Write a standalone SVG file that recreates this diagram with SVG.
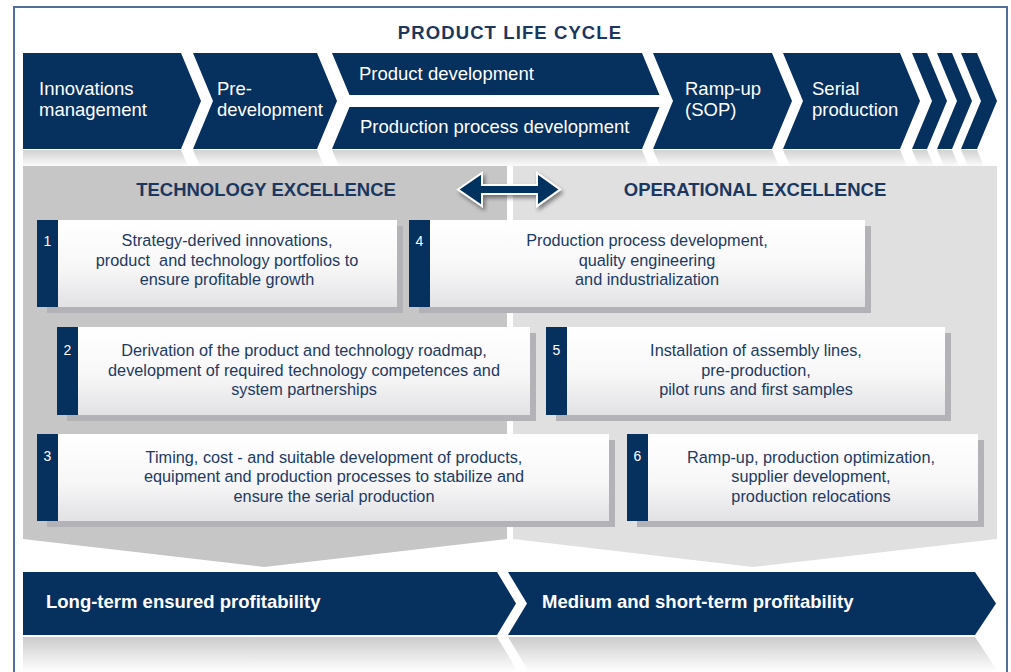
<svg xmlns="http://www.w3.org/2000/svg" width="1011" height="672" viewBox="0 0 1011 672">
<defs>
<linearGradient id="boxg" x1="0" y1="0" x2="0" y2="1">
<stop offset="0" stop-color="#ffffff"/>
<stop offset="0.55" stop-color="#f7f7f8"/>
<stop offset="1" stop-color="#e2e2e5"/>
</linearGradient>
<linearGradient id="refTop" gradientUnits="userSpaceOnUse" x1="0" y1="150" x2="0" y2="166">
<stop offset="0" stop-color="#d2d2d2"/>
<stop offset="1" stop-color="#fbfbfb"/>
</linearGradient>
<linearGradient id="refBot" gradientUnits="userSpaceOnUse" x1="0" y1="637" x2="0" y2="672">
<stop offset="0" stop-color="#cccccc"/>
<stop offset="1" stop-color="#ffffff"/>
</linearGradient>
<filter id="sh" x="-20%" y="-40%" width="140%" height="180%">
<feGaussianBlur in="SourceAlpha" stdDeviation="2"/>
<feOffset dx="2" dy="3" result="b"/>
<feComponentTransfer><feFuncA type="linear" slope="0.45"/></feComponentTransfer>
<feMerge><feMergeNode/><feMergeNode in="SourceGraphic"/></feMerge>
</filter>
</defs>
<style>
.navy{fill:#06305e}
.wt{fill:#ffffff;font-family:"Liberation Sans",Arial,sans-serif;font-size:18.5px}
.wb{fill:#ffffff;font-family:"Liberation Sans",Arial,sans-serif;font-size:18.5px;font-weight:bold}
.hd{fill:#1b3760;font-family:"Liberation Sans",Arial,sans-serif;font-size:18.5px;font-weight:bold;text-anchor:middle}
.bt{fill:#1d3a62;font-family:"Liberation Sans",Arial,sans-serif;font-size:16.3px;text-anchor:middle;white-space:pre}
.num{fill:#ffffff;font-family:"Liberation Sans",Arial,sans-serif;font-size:14px;text-anchor:middle}
.box{fill:url(#boxg)}
.shd{fill:#b3b3b7}
.tab{fill:#06305e}
</style>
<rect x="0" y="0" width="1011" height="672" fill="#ffffff"/>
<rect x="14" y="7" width="993" height="690" fill="#ffffff" stroke="#50709a" stroke-width="2"/>

<text x="510" y="38.5" class="hd" letter-spacing="1.1">PRODUCT LIFE CYCLE</text>

<g id="reflection-top" fill="url(#refTop)">
<path d="M23,150 H181 L188,166 H23 Z"/>
<path d="M193,150 H317 L324,166 H200 Z"/>
<path d="M332,150 H642 L649,166 H339 Z"/>
<path d="M653,150 H772 L779,166 H660 Z"/>
<path d="M783,150 H900 L907,166 H790 Z"/>
<path d="M912,150 H927 L934,166 H919 Z"/>
<path d="M937,150 H952 L959,166 H944 Z"/>
<path d="M961,150 H977 L984,166 H968 Z"/>
</g>

<g id="phase-innovations">
<path class="navy" d="M23,53 H181 L201,101 L181,149 H23 Z"/>
<text class="wt" x="39" y="95">Innovations</text>
<text class="wt" x="39" y="115.5">management</text>
</g>
<g id="phase-predevelopment">
<path class="navy" d="M193,53 H317 L337,101 L317,149 H193 L213,101 Z"/>
<text class="wt" x="217" y="95">Pre-</text>
<text class="wt" x="217" y="115.5">development</text>
</g>
<g id="phase-product-development">
<path class="navy" d="M332,53 H642 L659.5,95 H349.5 Z"/>
<text class="wt" x="359" y="80">Product development</text>
</g>
<g id="phase-production-process-development">
<path class="navy" d="M349.5,107 H659.5 L642,149 H332 Z"/>
<text class="wt" x="360" y="133">Production process development</text>
</g>
<g id="phase-rampup">
<path class="navy" d="M653,53 H772 L792,101 L772,149 H653 L673,101 Z"/>
<text class="wt" x="685" y="95">Ramp-up</text>
<text class="wt" x="685" y="116">(SOP)</text>
</g>
<g id="phase-serial">
<path class="navy" d="M783,53 H900 L920,101 L900,149 H783 L803,101 Z"/>
<text class="wt" x="812" y="95">Serial</text>
<text class="wt" x="812" y="116">production</text>
</g>
<g id="phase-continuation">
<path class="navy" d="M912,53 H927 L947,101 L927,149 H912 L932,101 Z"/>
<path class="navy" d="M937,53 H952 L972,101 L952,149 H937 L957,101 Z"/>
<path class="navy" d="M961,53 H977 L997,101 L977,149 H961 L981,101 Z"/>
</g>

<g id="panel-technology">
<path d="M23,166 H507 V539 L264,567 L23,539 Z" fill="#c6c6c6"/>
<text class="hd" x="266" y="196">TECHNOLOGY EXCELLENCE</text>
</g>
<g id="panel-operational">
<path d="M513,166 H997 V539 L753,567 L513,539 Z" fill="#e0e0e0"/>
<text class="hd" x="755" y="196">OPERATIONAL EXCELLENCE</text>
</g>

<g id="connectors">
<path d="M458,189.5 L482,173 V185 H537 V173 L560,189.5 L537,206 V194 H482 V206 Z" fill="#06305e" stroke="#ffffff" stroke-width="2" stroke-linejoin="miter" filter="url(#sh)"/>
</g>

<g id="box1">
<rect class="shd" x="47" y="226" width="356" height="87"/>
<rect class="box" x="37" y="220" width="360" height="87"/>
<rect class="tab" x="37" y="220" width="21" height="87"/>
<text class="num" x="47.5" y="246">1</text>
<text class="bt" x="227" y="246">Strategy-derived innovations,</text>
<text class="bt" x="227" y="265.5">product  and technology portfolios to</text>
<text class="bt" x="227" y="285">ensure profitable growth</text>
</g>
<g id="box4">
<rect class="shd" x="419" y="226" width="452" height="87"/>
<rect class="box" x="409" y="220" width="456" height="87"/>
<rect class="tab" x="409" y="220" width="21" height="87"/>
<text class="num" x="419.5" y="246">4</text>
<text class="bt" x="647" y="246">Production process development,</text>
<text class="bt" x="647" y="265.5">quality engineering</text>
<text class="bt" x="647" y="285">and industrialization</text>
</g>
<g id="box2">
<rect class="shd" x="67" y="333" width="469" height="88"/>
<rect class="box" x="57" y="327" width="473" height="88"/>
<rect class="tab" x="57" y="327" width="21" height="88"/>
<text class="num" x="67.5" y="355">2</text>
<text class="bt" x="304" y="356">Derivation of the product and technology roadmap,</text>
<text class="bt" x="304" y="375.5">development of required technology competences and</text>
<text class="bt" x="304" y="395">system partnerships</text>
</g>
<g id="box5">
<rect class="shd" x="556" y="333" width="395" height="88"/>
<rect class="box" x="546" y="327" width="399" height="88"/>
<rect class="tab" x="546" y="327" width="21" height="88"/>
<text class="num" x="556.5" y="355">5</text>
<text class="bt" x="756" y="356">Installation of assembly lines,</text>
<text class="bt" x="756" y="375.5">pre-production,</text>
<text class="bt" x="756" y="395">pilot runs and first samples</text>
</g>
<g id="box3">
<rect class="shd" x="47" y="440" width="568" height="87"/>
<rect class="box" x="37" y="434" width="572" height="87"/>
<rect class="tab" x="37" y="434" width="21" height="87"/>
<text class="num" x="47.5" y="461">3</text>
<text class="bt" x="334" y="462.5">Timing, cost - and suitable development of products,</text>
<text class="bt" x="334" y="482">equipment and production processes to stabilize and</text>
<text class="bt" x="334" y="501.5">ensure the serial production</text>
</g>
<g id="box6">
<rect class="shd" x="637" y="440" width="347" height="87"/>
<rect class="box" x="627" y="434" width="351" height="87"/>
<rect class="tab" x="627" y="434" width="21" height="87"/>
<text class="num" x="637.5" y="461">6</text>
<text class="bt" x="811" y="462.5">Ramp-up, production optimization,</text>
<text class="bt" x="811" y="482">supplier development,</text>
<text class="bt" x="811" y="501.5">production relocations</text>
</g>

<g id="reflection-bottom" fill="url(#refBot)">
<path d="M23,637 H497 L516,668.5 L497,700 H23 Z"/>
<path d="M508,637 H975 L996,668.5 L975,700 H508 L527,668.5 Z"/>
</g>

<g id="result-long-term">
<path class="navy" d="M23,572 H497 L516,603.5 L497,635 H23 Z"/>
<text class="wb" x="46" y="608">Long-term ensured profitability</text>
</g>
<g id="result-medium-short-term">
<path class="navy" d="M508,572 H975 L996,603.5 L975,635 H508 L527,603.5 Z"/>
<text class="wb" x="542" y="608">Medium and short-term profitability</text>
</g>
</svg>
